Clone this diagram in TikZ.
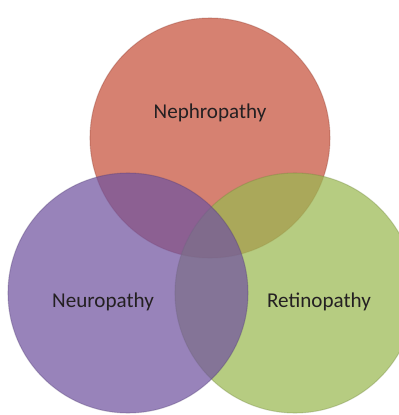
\documentclass[tikz,border=0pt]{standalone}
\usepackage{fontspec}
\setmainfont{Carlito}
\usepackage{tikz}
\definecolor{nephro}{RGB}{198,80,58}
\definecolor{neuro}{RGB}{112,83,159}
\definecolor{retino}{RGB}{154,184,81}
\definecolor{labeltext}{RGB}{36,32,34}

\begin{document}
\begin{tikzpicture}[
		venn/.style={circle, minimum size=4.8cm, inner sep=0pt, fill opacity=.72, draw opacity=.3, line width=.6pt},
		vennlabel/.style={text=labeltext, font=\fontsize{12}{14}\selectfont}
	]
				\clip (0,0) rectangle (7.98,8.3);
				\useasboundingbox (0,0) rectangle (7.98,8.3);
				% the three circles
				\node[venn, fill=nephro, draw=nephro!70!black] (nephro) at (4.2,5.54) {};
				\node[venn, fill=retino, draw=retino!70!black] (retino) at (5.9,2.44) {};
				\node[venn, fill=neuro, draw=neuro!70!black] (neuro) at (2.56,2.44) {};
				% labels
				\node[vennlabel] (nephrolabel) at (4.2,6.04) {Nephropathy};
				\node[vennlabel] (neurolabel) at (2.06,2.26) {Neuropathy};
				\node[vennlabel] (retinolabel) at (6.38,2.26) {Retinopathy};
			\end{tikzpicture}
\end{document}
